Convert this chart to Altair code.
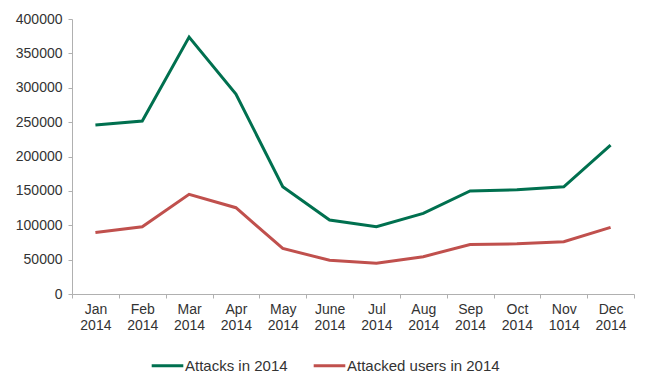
import altair as alt
import pandas as pd

months = ["Jan 2014", "Feb 2014", "Mar 2014", "Apr 2014", "May 2014", "June 2014",
          "Jul 2014", "Aug 2014", "Sep 2014", "Oct 2014", "Nov 1014", "Dec 2014"]
attacks = [245800, 251600, 373700, 290900, 156000, 107600, 97900, 117300, 149800, 151500, 156000, 216700]
users = [89500, 97900, 145000, 125500, 66400, 49000, 44600, 54300, 72000, 73000, 76000, 97000]
series_names = ["Attacks in 2014", "Attacked users in 2014"]
colors = ["#00704f", "#c0504d"]

rows = []
for m, a, u in zip(months, attacks, users):
    rows.append({"month": m, "series": series_names[0], "value": a})
    rows.append({"month": m, "series": series_names[1], "value": u})
df = pd.DataFrame(rows)

font = "Liberation Sans"

chart = alt.Chart(df).mark_line(strokeWidth=3).encode(
    x=alt.X("month:N", sort=months, bandPosition=0.5,
            scale=alt.Scale(type="band", paddingInner=0, paddingOuter=0),
            axis=alt.Axis(title=None, labelAngle=0, tickBand="extent",
                          labelExpr="split(datum.label, ' ')", labelLineHeight=16,
                          labelPadding=4, tickSize=4)),
    y=alt.Y("value:Q", scale=alt.Scale(domain=[0, 400000]),
            axis=alt.Axis(title=None, values=list(range(0, 400001, 50000)), format="d",
                          grid=False, tickSize=4, labelPadding=6)),
    color=alt.Color("series:N", sort=series_names,
                    scale=alt.Scale(domain=series_names, range=colors),
                    legend=alt.Legend(title=None, orient="none", legendX=78, legendY=329,
                                      direction="horizontal", symbolType="stroke",
                                      symbolSize=1000, symbolStrokeWidth=3,
                                      labelOffset=0, columnPadding=19,
                                      labelFontSize=15, labelFont=font, labelColor="#333333")),
).properties(
    width=562, height=275,
    autosize=alt.AutoSizeParams(type="none"),
    padding={"left": 64, "top": 11, "right": 8, "bottom": 84},
).configure_view(stroke=None).configure_axis(
    domainColor="#b0b0b0", tickColor="#b0b0b0", labelColor="#333333",
    labelFont=font, labelFontSize=14, grid=False,
)

chart.save("out.html", embed_options={"renderer": "svg", "actions": False})
